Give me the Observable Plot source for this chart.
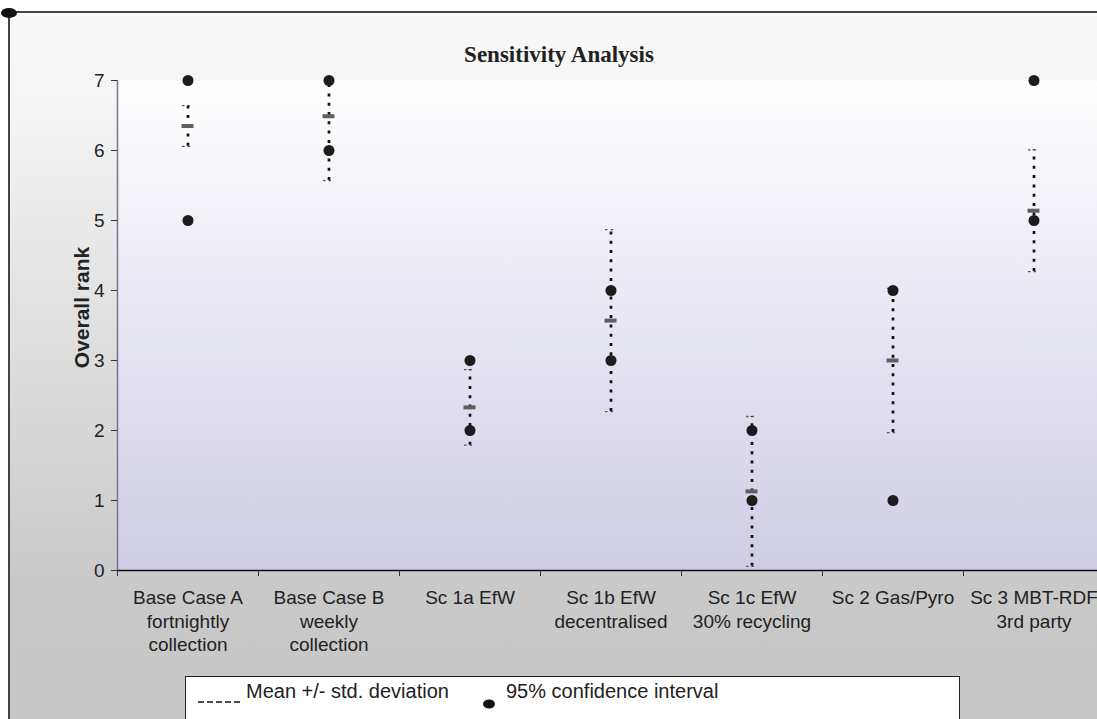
<!DOCTYPE html>
<html>
<head>
<meta charset="utf-8">
<script src="https://cdn.jsdelivr.net/npm/d3@7"></script>
<script src="https://cdn.jsdelivr.net/npm/@observablehq/plot@0.6"></script>
<style>
  body { margin: 0; background: #fff; }
  #wrap { position: relative; width: 1097px; height: 719px; overflow: hidden; background: #fff; font-family: "Liberation Sans", Arial, sans-serif; }
  #outer { position: absolute; left: 8px; top: 11px; width: 1100px; height: 720px; box-sizing: border-box;
           border: 2px solid #444; background: linear-gradient(to bottom, #f9f9f9 0%, #f5f5f5 12%, #dcdcdc 50%, #c9c9c9 80%, #c7c7c7 100%); }
  #blob { position: absolute; left: 1px; top: 8px; width: 16px; height: 10px; border-radius: 50%; background: #111; }
  #chart { position: absolute; left: 0; top: 0; }
  #legend { position: absolute; left: 185px; top: 676px; width: 775px; height: 60px; box-sizing: border-box;
            border: 1.5px solid #222; background: #fff; font-size: 20px; color: #222; }
  #legend .item { position: absolute; top: 3px; white-space: nowrap; }
</style>
</head>
<body>
<div id="wrap">
  <div id="outer"></div>
  <div id="blob"></div>
  <div id="chart"></div>
  <div id="legend">
    <svg style="position:absolute;left:12px;top:20px" width="46" height="8">
      <line x1="0" y1="5" x2="44" y2="5" stroke="#111" stroke-width="1.5" stroke-dasharray="6,3"></line>
    </svg>
    <span class="item" style="left:60px">Mean +/- std. deviation</span>
    <svg style="position:absolute;left:296px;top:22px" width="14" height="10">
      <ellipse cx="7" cy="5" rx="6" ry="4.5" fill="#111"></ellipse>
    </svg>
    <span class="item" style="left:320px">95% confidence interval</span>
  </div>
</div>
<script>
const title = "Sensitivity Analysis";
const yLabel = "Overall rank";
const categories = [
  "Base Case A\nfortnightly\ncollection",
  "Base Case B\nweekly\ncollection",
  "Sc 1a EfW",
  "Sc 1b EfW\ndecentralised",
  "Sc 1c EfW\n30% recycling",
  "Sc 2 Gas/Pyro",
  "Sc 3 MBT-RDF\n3rd party"
];
const means   = [6.35, 6.49, 2.33, 3.57, 1.13, 3.00, 5.14];
const stdDevs = [0.29, 0.92, 0.54, 1.30, 1.07, 1.03, 0.87];
const ciLow   = [5, 6, 2, 3, 1, 1, 5];
const ciHigh  = [7, 7, 3, 4, 2, 4, 7];
const yTicks  = [0, 1, 2, 3, 4, 5, 6, 7];
const yMin = 0, yMax = 7;

const rows = categories.map((cat, i) => ({
  cat, mean: means[i], sd: stdDevs[i],
  lo: Math.max(yMin, means[i] - stdDevs[i]),
  hi: Math.min(yMax, means[i] + stdDevs[i])
}));
const ciPoints = categories.flatMap((cat, i) => [{cat, v: ciLow[i]}, {cat, v: ciHigh[i]}]);
const caps = rows.flatMap(r => [r.mean - r.sd, r.mean + r.sd]
  .map(v => ({cat: r.cat, v: Math.max(yMin, v), raw: v}))
  .filter(d => d.raw >= yMin - 0.1 && d.raw <= yMax));

const halfBand = (1104 - 117) / categories.length / 2;

const chart = Plot.plot({
  width: 1097,
  height: 719,
  marginTop: 80,
  marginBottom: 149,
  marginLeft: 117,
  marginRight: 0,
  style: {background: "transparent", fontFamily: "Liberation Sans, Arial, sans-serif", fontSize: "19px", color: "#222", overflow: "visible"},
  x: {type: "band", domain: categories, range: [117, 1104], padding: 0},
  y: {domain: [yMin, yMax], range: [570, 80]},
  marks: [
    Plot.frame({fill: "url(#plotGrad)", stroke: null}),
    Plot.ruleX([categories[0]], {dx: -halfBand, y1: yMin, y2: yMax, stroke: "#77758c", strokeWidth: 1.5}),
    Plot.ruleY([yMin], {stroke: "#111", strokeWidth: 1.5}),
    Plot.axisY({ticks: yTicks, tickFormat: d3.format("d"), tickSize: 6, tickPadding: 7, fontSize: 19, label: null, stroke: "#333"}),
    Plot.axisX({tickSize: 6, tickFormat: () => "", dx: -halfBand, label: null, stroke: "#333"}),
    Plot.axisX({tickSize: 0, tickPadding: 17, fontSize: 19, lineHeight: 1.24, label: null}),
    Plot.text([yLabel], {text: d => d, frameAnchor: "left", textAnchor: "middle", rotate: -90, dx: -35, dy: -18, fontWeight: "bold", fontSize: 21, fill: "#222"}),
    Plot.text([title], {text: d => d, frameAnchor: "top", dx: 562 - 610.5, dy: -35, fontWeight: "bold", fontSize: 23, fontFamily: "Liberation Serif, Times New Roman, serif", fill: "#222"}),
    Plot.ruleX(rows, {x: "cat", y1: "lo", y2: "hi", stroke: "#111", strokeWidth: 2.7, strokeDasharray: "3,6.3"}),
    Plot.tickY(caps, {x: "cat", y: "v", inset: halfBand - 5.5, stroke: "#555", strokeWidth: 1.3, strokeDasharray: "2.5,3"}),
    Plot.dot(ciPoints, {x: "cat", y: "v", r: 5.5, fill: "#1c1c1c", stroke: null}),
    Plot.tickY(rows, {x: "cat", y: "mean", inset: halfBand - 6, stroke: "#5f5f5f", strokeWidth: 4})
  ]
});

d3.select(chart).insert("defs", ":first-child").html(
  '<linearGradient id="plotGrad" x1="0" y1="0" x2="0" y2="1">' +
  '<stop offset="0%" stop-color="#ffffff"/>' +
  '<stop offset="40%" stop-color="#ecebf5"/>' +
  '<stop offset="100%" stop-color="#cfcde5"/>' +
  '</linearGradient>');

document.getElementById("chart").appendChild(chart);
</script>
</body>
</html>
